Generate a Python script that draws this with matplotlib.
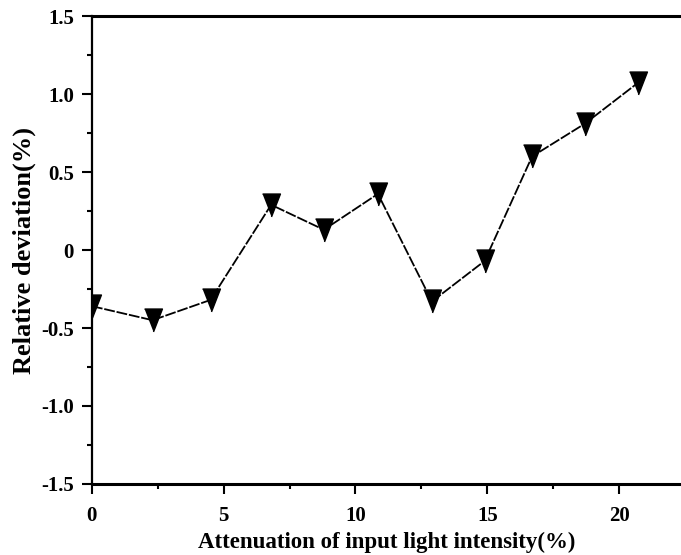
import numpy as np
import matplotlib
matplotlib.use('Agg')
import matplotlib.pyplot as plt
from matplotlib.ticker import MultipleLocator, FixedLocator

# values
attenuation = [0.0, 2.3, 4.5, 6.8, 8.8, 10.85, 12.9, 14.9, 16.7, 18.7, 20.7]
deviation = [-0.36, -0.45, -0.32, 0.29, 0.13, 0.36, -0.33, -0.07, 0.60, 0.81, 1.07]

x_ticks = [0, 5, 10, 15, 20]
y_ticks = [-1.5, -1.0, -0.5, 0, 0.5, 1.0, 1.5]
y_tick_labels = ['-1.5', '-1.0', '-0.5', '0', '0.5', '1.0', '1.5']

plt.rcParams['font.family'] = ['Liberation Serif', 'DejaVu Serif']
plt.rcParams['font.weight'] = 'bold'

fig = plt.figure(figsize=(6.81, 5.55), dpi=100)
ax = fig.add_axes([0.135, 0.128, 0.865, 0.843])

# slim downward triangle like the original markers
tri = [(-0.39, 0.5), (0.39, 0.5), (0, -0.5)]
ax.plot(attenuation, deviation, color='black', linewidth=1.3,
        linestyle=(0, (6, 1)), marker=tri, markersize=16.5,
        markerfacecolor='black', markeredgecolor='black')

ax.set_xlim(0, 22.35)
ax.set_ylim(-1.5, 1.5)

ax.xaxis.set_major_locator(FixedLocator(x_ticks))
ax.xaxis.set_minor_locator(MultipleLocator(2.5))
ax.set_yticks(y_ticks)
ax.set_yticklabels(y_tick_labels)
ax.yaxis.set_minor_locator(MultipleLocator(0.25))

ax.tick_params(which='major', direction='out', length=7, width=1.5,
               labelsize=15, top=False, right=False)
ax.tick_params(axis='y', which='major', pad=6)
ax.tick_params(axis='x', which='major', pad=9)
ax.tick_params(which='minor', direction='out', length=3.5, width=1.5,
               top=False, right=False)
for lab in ax.get_xticklabels() + ax.get_yticklabels():
    lab.set_fontweight('bold')

ax.spines['right'].set_visible(False)
ax.spines['top'].set_linewidth(2.2)
ax.spines['bottom'].set_linewidth(2.2)
ax.spines['left'].set_linewidth(1.6)

ax.set_xlabel('Attenuation of input light intensity(%)', fontsize=16.5,
              fontweight='bold', labelpad=4)
ax.set_ylabel('Relative deviation(%)', fontsize=19, fontweight='bold',
              labelpad=4)

fig.savefig('out.png', dpi=100)
